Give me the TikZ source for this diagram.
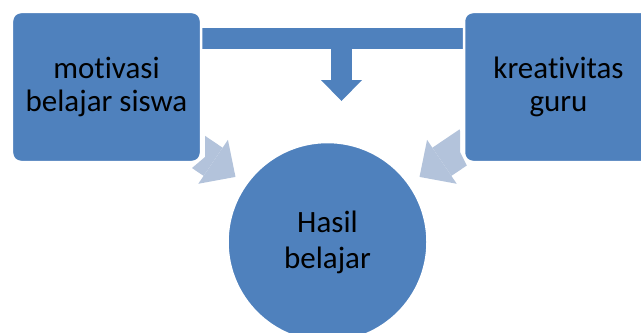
\documentclass[tikz,border=0pt]{standalone}
\usepackage{fontspec}
\setmainfont{Carlito}[Ligatures=NoCommon]
\usepackage{tikz}
\usetikzlibrary{arrows.meta, positioning, calc, backgrounds}

\begin{document}
\begin{tikzpicture}[x=1bp, y=1bp,
  kotak/.style={draw=white, line width=2.5bp, fill=biru, rounded corners=9bp, minimum width=189bp, minimum height=150bp, outer sep=0pt, align=center, font=\fontsize{31bp}{33bp}\selectfont},
  bulat/.style={circle, draw=white, line width=2.5bp, fill=biru, minimum size=200bp, outer sep=0pt, align=center, font=\fontsize{31bp}{36bp}\selectfont},
  jalur/.style={draw=biru, line width=21bp},
  panahbiru/.style={jalur, -{Triangle[width=41bp, length=21bp, line width=0bp]}},
  panahmuda/.style={draw=birumuda, line width=34bp, shorten >=111bp, -{Triangle[width=53bp, length=27bp, line width=0bp]}}]
% --- WARNA ---
\definecolor{biru}{HTML}{4F81BD}
\definecolor{birumuda}{HTML}{B3C3DB}

\useasboundingbox (0,0) rectangle (641,332);

% LAPIS 1: kotak dan lingkaran
\node[kotak] (motivasi) at (106.5,245) {motivasi\\belajar siswa};
\node[kotak, right=263bp of motivasi] (kreativitas) {kreativitas\\guru};
\node[bulat] (hasil) at (327.5,90) {Hasil\\belajar};

% LAPIS 2: garis penghubung dan panah (di belakang)
\begin{scope}[on background layer]
\coordinate (kiri) at ([yshift=-26.5bp]motivasi.north east);
\coordinate (kanan) at ([yshift=-26.5bp]kreativitas.north west);
\coordinate (cabang) at (341.5,293.5);
\coordinate (ujung) at (341.5,231);
\coordinate (sasaran) at ([yshift=3bp]hasil.center);
\draw[jalur] (kiri) -- (kanan);
\draw[panahbiru] ([yshift=10bp]cabang) -- (ujung);
% ekor panah muda dipotong miring
\begin{scope}
\clip (192,164) -- (205,175) -- (205,232) -- (330,232) -- (330,120) -- (192,120) -- cycle;
\draw[panahmuda] ([shift={(-15bp,18.5bp)}]motivasi.south east) -- (sasaran);
\end{scope}
\begin{scope}
\clip (468,164) -- (460,180) -- (460,232) -- (325,232) -- (325,120) -- (468,120) -- cycle;
\draw[panahmuda] ([shift={(5bp,18.5bp)}]kreativitas.south west) -- (sasaran);
\end{scope}
\end{scope}
\end{tikzpicture}
\end{document}
